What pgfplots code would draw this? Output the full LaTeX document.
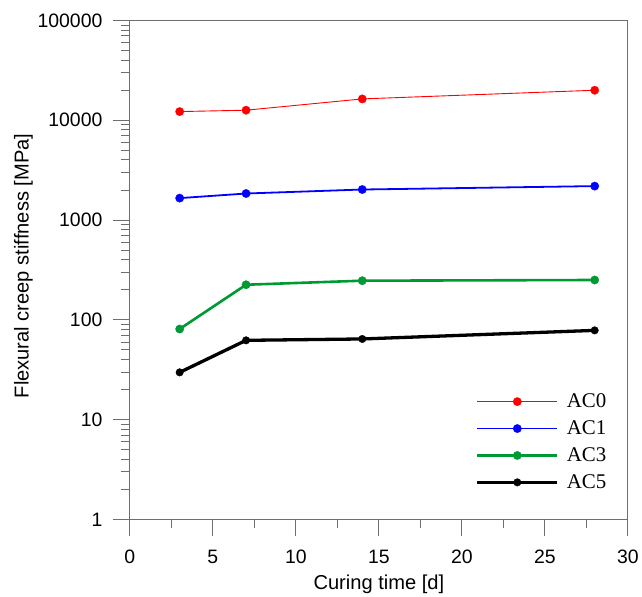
\documentclass[border=0pt]{standalone}
\usepackage{fontspec}
\setmainfont{Liberation Sans}
\newfontfamily\legfont{Liberation Serif}
\usepackage{pgfplots}
\pgfplotsset{compat=1.18}
\definecolor{axgray}{RGB}{110,110,110}
\definecolor{acgreen}{RGB}{0,153,51}
\begin{document}
\begin{tikzpicture}
\begin{axis}[
  scale only axis,
  width=498.5bp, height=499.5bp,
  xmin=0, xmax=30,
  ymode=log, ymin=1, ymax=100000,
  xtick={0,5,...,30},
  minor xtick={2.5,7.5,...,27.5},
  ytick={1,10,100,1000,10000,100000},
  yticklabels={1,10,100,1000,10000,100000},
  minor ytick={2,3,4,5,6,7,8,9,20,30,40,50,60,70,80,90,200,300,400,500,600,700,800,900,2000,3000,4000,5000,6000,7000,8000,9000,20000,30000,40000,50000,60000,70000,80000,90000},
  xtick pos=bottom, ytick pos=left,
  tick align=outside,
  major tick length=17bp, minor tick length=9bp,
  axis line style={axgray, line width=1bp},
  tick style={axgray, line width=1bp},
  /pgf/number format/assume math mode=true,
  ticklabel style={font=\fontsize{19.5}{20}\selectfont, text=black},
  yticklabel style={xshift=-7bp},
  xticklabel style={yshift=-10bp},
  label style={font=\fontsize{20.2}{22}\selectfont},
  xlabel={Curing time [d]},
  xlabel style={yshift=-4bp},
  ylabel={Flexural creep stiffness [MPa]},
  ylabel style={xshift=4bp, yshift=-2bp},
  legend style={draw=none, fill=none, font=\legfont\fontsize{21}{21}\selectfont,
    at={(rel axis cs:0.688,0.26)}, anchor=north west, row sep=7.6bp,
    /tikz/every odd column/.append style={column sep=6bp}},
  legend cell align=left,
  legend image code/.code={\draw[mark repeat=2,mark phase=2,#1] plot coordinates {(0bp,0bp) (40bp,0bp) (80bp,0bp)};},
  mark size=4.2bp,
]
\addplot[red, line width=0.9bp, mark=*, mark options={line width=0.3bp}] coordinates {(3,12220) (7,12620) (14,16370) (28,20000)};
\addlegendentry{AC0}
\addplot[blue, line width=1.8bp, mark=*, mark options={line width=0.3bp}] coordinates {(3,1660) (7,1846) (14,2024) (28,2190)};
\addlegendentry{AC1}
\addplot[acgreen, line width=2.6bp, mark=*, mark options={line width=0.3bp}] coordinates {(3,81) (7,225) (14,247) (28,251)};
\addlegendentry{AC3}
\addplot[black, line width=3.3bp, mark=*, mark size=3.8bp, mark options={line width=0.3bp}] coordinates {(3,29.8) (7,62.4) (14,64.4) (28,78.5)};
\addlegendentry{AC5}
\end{axis}
\path (-130bp,-74bp) rectangle (512bp,520bp);
\end{tikzpicture}
\end{document}
